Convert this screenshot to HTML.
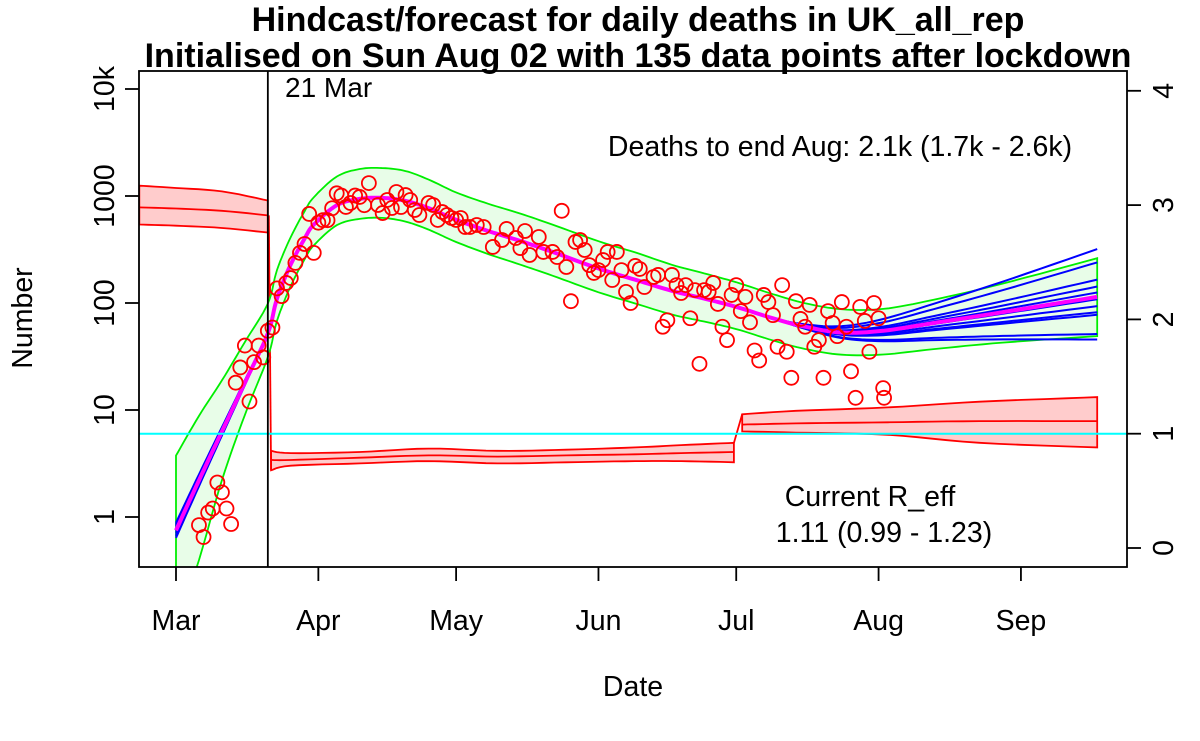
<!DOCTYPE html>
<html><head><meta charset="utf-8"><style>
html,body{margin:0;padding:0;background:#fff;}
svg{display:block;font-family:"Liberation Sans",Arial,sans-serif;}
</style></head><body>
<svg id="chart" width="1200" height="741" viewBox="0 0 1200 741" xmlns="http://www.w3.org/2000/svg">
<rect width="1200" height="741" fill="#fff"/>
<g id="marks"></g>
<text x="638" y="31" font-size="34" font-weight="bold" text-anchor="middle">Hindcast/forecast for daily deaths in UK_all_rep</text>
<text x="638" y="67" font-size="34" font-weight="bold" text-anchor="middle">Initialised on Sun Aug 02 with 135 data points after lockdown</text>
<text x="285" y="97" font-size="28">21 Mar</text>
<text x="840" y="156" font-size="28.5" text-anchor="middle">Deaths to end Aug: 2.1k (1.7k - 2.6k)</text>
<text x="870" y="506" font-size="28.5" text-anchor="middle">Current R_eff</text>
<text x="884" y="542" font-size="28.5" text-anchor="middle">1.11 (0.99 - 1.23)</text>
<text x="633" y="696" font-size="28.5" text-anchor="middle">Date</text>
<text x="0" y="0" font-size="28.5" text-anchor="middle" transform="translate(32,318) rotate(-90)">Number</text>
</svg>
<script>
const monthLabels = ["Mar","Apr","May","Jun","Jul","Aug","Sep"];
const monthDays = [0,31,61,92,122,153,184];
const leftTickVals = [1,10,100,1000,10000];
const leftTickLabels = ["1","10","100","1000","10k"];
const rightTickVals = [0,1,2,3,4];
const obsDays = [5,6,7,8,9,10,11,12,13,14,15,16,17,18,19,20,21,22,23,24,25,26,27,28,29,30,31,32,33,34,35,36,37,38,39,40,41,42,
44,45,46,47,48,49,50,51,52,53,55,56,57,58,59,60,61,62,63,64,65.5,67,69,71,72,74,75,76,77,79,80,82,83,84,85,86,87,88,89,90,91,92,93,94,95,96,97,98,99,100,101,102,104,105,106,107,108,109,110,111,112,113,114,115,116,117,118,119,120,121,122,123,124,125,126,127,128,129,130,131,132,133,134,135,136,137,138,139,140,141,142,143,144,145,146,147,148,149,150,151,152,153,154,154.2];
const obsDeaths = [0.84,0.65,1.1,1.2,2.1,1.7,1.2,0.86,18,25,40,12,28,40,31,55,59,137,116,154,171,237,294,356,680,294,563,594,594,768,1060,1010,790,860,1010,980,820,1320,
824,693,918,772,1090,789,1020,918,740,664,860,824,597,708,664,623,597,623,513,513,536,513,334,388,492,405,326,471,281,414,300,300,269,727,217,104,372,388,313,226,191,203,252,300,164,300,203,127,100,222,208,141,175,183,60,69,183,147,124,147,72,132,27,132,127,154,98,60,45,119,147,84,114,66,36,29,119,102,77,39,147,35,20,104,71,60,96,39,45,20,84,65,49,102,60,23,13,92,68,35,100,72,16,13];
const fitDays = [0,5,10,15,20,22,25,28,30,35,40,45,50,55,61,68,75,82,92,100,108,115,122,130,137,145,154,165,180,200.6];
const fitDeaths = [0.75,2.2,6.3,18,52,110,230,400,540,820,940,960,900,770,600,470,380,300,210,165,130,110,92,72,60,53,55,65,82,114];
const bandUpperFactor = [5,4,3,2.4,1.9,1.85,1.8,1.8,1.8,1.85,1.9,1.9,1.9,1.85,1.8,1.8,1.8,1.8,1.8,1.8,1.75,1.72,1.7,1.68,1.66,1.65,1.6,1.65,1.85,2.3];
const bandLowerFactor = [0.12,0.18,0.35,0.5,0.6,0.62,0.63,0.64,0.64,0.65,0.65,0.65,0.64,0.63,0.62,0.61,0.6,0.6,0.6,0.6,0.6,0.61,0.62,0.62,0.62,0.62,0.6,0.57,0.52,0.43];
const ensembleEndFactor = [2.8,2.1,1.45,1.25,1.1,0.95,0.82,0.72,0.68,0.45,0.40,1.0];
const rPreDays = [-8,0,10,20];
const rPreMid = [2.98,2.97,2.95,2.91];
const rPreUp = [3.17,3.15,3.12,3.04];
const rPreLo = [2.83,2.82,2.80,2.76];
const rMidDays = [20.7,25,40,55,70,85,100,110,121.5];
const rMidMid = [0.77,0.77,0.79,0.81,0.80,0.81,0.82,0.83,0.84];
const rMidUp = [0.85,0.83,0.84,0.87,0.85,0.86,0.88,0.90,0.92];
const rMidLo = [0.68,0.72,0.74,0.76,0.74,0.75,0.76,0.76,0.75];
const rPostDays = [123.3,135,155,175,200.6];
const rPostMid = [1.08,1.09,1.10,1.11,1.11];
const rPostUp = [1.17,1.20,1.23,1.28,1.32];
const rPostLo = [1.02,1.01,0.99,0.92,0.88];
const lockdownDay = 20;

const L=139,R=1127,T=71,B=567;
const x = d => 176 + d*4.592;
const y = v => 517 - 107*Math.log10(v);
const yR = r => 548 - 114.3*r;
const NS='http://www.w3.org/2000/svg';
const g=document.getElementById('marks');
function mk(tag,attrs,parent){const e=document.createElementNS(NS,tag);for(const k in attrs)e.setAttribute(k,attrs[k]);(parent||g).appendChild(e);return e;}
function smooth(xs,ys,n){const out=[];for(let i=0;i<xs.length-1;i++){const x0=xs[Math.max(i-1,0)],x1=xs[i],x2=xs[i+1],x3=xs[Math.min(i+2,xs.length-1)];const y0=ys[Math.max(i-1,0)],y1=ys[i],y2=ys[i+1],y3=ys[Math.min(i+2,ys.length-1)];for(let k=0;k<n;k++){const t=k/n,t2=t*t,t3=t2*t;const f=(a,b,c,d)=>0.5*((2*b)+(-a+c)*t+(2*a-5*b+4*c-d)*t2+(-a+3*b-3*c+d)*t3);out.push([f(x0,x1,x2,x3),f(y0,y1,y2,y3)]);}}out.push([xs[xs.length-1],ys[ys.length-1]]);return out;}
const pts = a => a.map(p=>p[0].toFixed(1)+','+p[1].toFixed(1)).join(' ');
const clip = mk('clipPath',{id:'plotclip'}); mk('rect',{x:L,y:T,width:R-L,height:B-T},clip);
const pg = mk('g',{'clip-path':'url(#plotclip)'});

function rBand(days,up,mid,lo,name){
  const xs=days.map(x);
  const u=smooth(xs,up.map(yR),6), m=smooth(xs,mid.map(yR),6), l=smooth(xs,lo.map(yR),6);
  const poly=mk('polygon',{points:pts(u.concat(l.slice().reverse())),fill:'#ffcccc',stroke:'#ff0000','stroke-width':1.8},pg);
  
  
  const ml=mk('polyline',{points:pts(m),fill:'none',stroke:'#ff0000','stroke-width':1.8},pg);
  
  
}
rBand(rPreDays,rPreUp,rPreMid,rPreLo,'reff-pre-lockdown');
rBand(rMidDays,rMidUp,rMidMid,rMidLo,'reff-lockdown');
rBand(rPostDays,rPostUp,rPostMid,rPostLo,'reff-july');
const drop=mk('line',{x1:x(lockdownDay)+1,y1:yR(rPreMid[3]),x2:x(rMidDays[0]),y2:yR(rMidLo[0]),stroke:'#ff0000','stroke-width':1.8},pg);


const jump=mk('line',{x1:x(rMidDays[8]),y1:yR(rMidUp[8]),x2:x(rPostDays[0]),y2:yR(rPostUp[0]),stroke:'#ff0000','stroke-width':1.8},pg);



const fx=fitDays.map(x);
const up=smooth(fx,fitDeaths.map((v,i)=>y(v*bandUpperFactor[i])),8);
const lo=smooth(fx,fitDeaths.map((v,i)=>y(v*bandLowerFactor[i])),8);
const band=mk('polygon',{points:pts(up.concat(lo.slice().reverse())),fill:'#e8fde8',stroke:'#00ee00','stroke-width':1.8},pg);



ensembleEndFactor.forEach((m,j)=>{
  const ys=fitDeaths.map((v,i)=>{const d=fitDays[i];let t=d>130?Math.pow((d-130)/70.6,1.3):0;const e=d<22?Math.pow(1+(j-5)*0.03,(22-d)/22):1;return y(v*Math.pow(m,t)*e);});
  const l=mk('polyline',{points:pts(smooth(fx,ys,8)),fill:'none',stroke:'#0000ff','stroke-width':2},pg);
  
  
});
const cl=mk('polyline',{points:pts(smooth(fx,fitDeaths.map(y),8)),fill:'none',stroke:'#ff00ff','stroke-width':4},pg);



const cy=mk('line',{x1:L,x2:R,y1:yR(1),y2:yR(1),stroke:'#00ffff','stroke-width':2},pg);



obsDays.forEach((d,i)=>{
  const c=mk('circle',{cx:x(d),cy:y(obsDeaths[i]),r:7,fill:'none',stroke:'#ff0000','stroke-width':1.8},pg);
  
  
});

const ld=mk('line',{x1:x(lockdownDay),x2:x(lockdownDay),y1:T,y2:B,stroke:'#000','stroke-width':1.8});



const fr=mk('rect',{x:L,y:T,width:R-L,height:B-T,fill:'none',stroke:'#000','stroke-width':1.8});



monthDays.forEach((d,i)=>{
  const t=mk('line',{x1:x(d),x2:x(d),y1:B,y2:B+14,stroke:'#000','stroke-width':1.8});
  
  
  const tx=mk('text',{x:x(d),y:630,'font-size':28.5,'text-anchor':'middle'});
  tx.textContent=monthLabels[i];
  
  
});
leftTickVals.forEach((v,i)=>{
  const t=mk('line',{x1:L-14,x2:L,y1:y(v),y2:y(v),stroke:'#000','stroke-width':1.8});
  
  
  const tx=mk('text',{x:0,y:0,'font-size':28.5,'text-anchor':'middle',transform:`translate(${L-25},${y(v)}) rotate(-90)`});
  tx.textContent=leftTickLabels[i];
  
  
});
rightTickVals.forEach(r=>{
  const t=mk('line',{x1:R,x2:R+14,y1:yR(r),y2:yR(r),stroke:'#000','stroke-width':1.8});
  
  
  const tx=mk('text',{x:0,y:0,'font-size':28.5,'text-anchor':'middle',transform:`translate(${R+46},${yR(r)}) rotate(-90)`});
  tx.textContent=String(r);
  
  
});
</script>
</body></html>
